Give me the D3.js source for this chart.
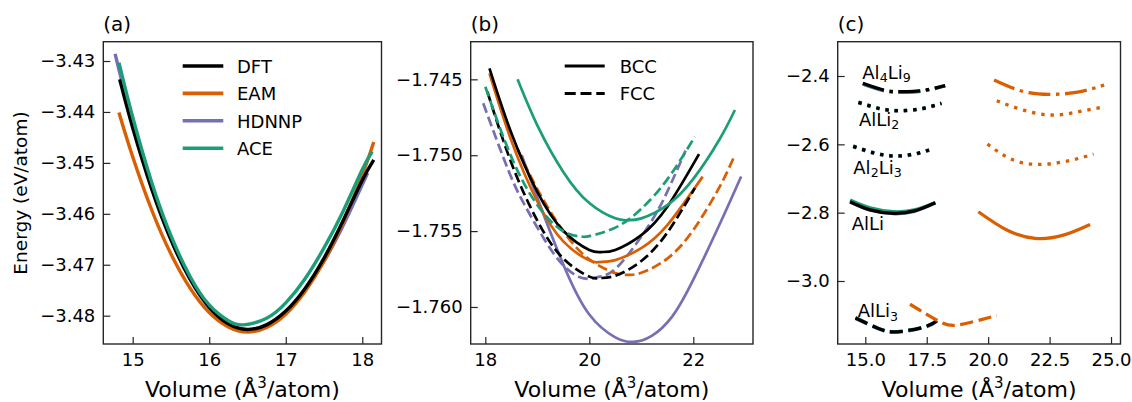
<!DOCTYPE html>
<html>
<head>
<meta charset="utf-8">
<script src="https://cdn.jsdelivr.net/npm/d3@7"></script>
<style>
  body { margin: 0; background: #fff; }
  svg { display: block; font-family: "DejaVu Sans", sans-serif; }
</style>
</head>
<body>
<div id="chart"></div>
<script>
// ---------- panel (a): fcc Al, energy vs volume ----------
var dftA = [[14.83,-3.4336],[15.0,-3.4431],[15.25,-3.4552],[15.5,-3.4651],[15.75,-3.4728],[16.0,-3.4783],[16.25,-3.4816],[16.5,-3.4827],[16.75,-3.4818],[17.0,-3.4791],[17.25,-3.4747],[17.5,-3.4687],[17.75,-3.4613],[18.0,-3.4534],[18.15,-3.4494]];
var eamA = [[14.82,-3.4401],[15.0,-3.4488],[15.25,-3.4593],[15.5,-3.4679],[15.75,-3.4746],[16.0,-3.4794],[16.25,-3.4822],[16.5,-3.4832],[16.75,-3.4823],[17.0,-3.4797],[17.25,-3.4753],[17.5,-3.4693],[17.75,-3.4616],[18.0,-3.4524],[18.15,-3.4459]];
var hdnnpA = [[14.77,-3.4286],[15.0,-3.4423],[15.25,-3.4548],[15.5,-3.4650],[15.75,-3.4729],[16.0,-3.4785],[16.25,-3.4818],[16.48,-3.4828],[16.75,-3.4818],[17.0,-3.4792],[17.25,-3.4749],[17.5,-3.4693],[17.75,-3.4623],[18.07,-3.4520]];
var aceA = [[14.82,-3.4303],[15.0,-3.4410],[15.25,-3.4539],[15.5,-3.4643],[15.75,-3.4723],[16.0,-3.4779],[16.25,-3.4810],[16.45,-3.4818],[16.75,-3.4805],[17.0,-3.4775],[17.25,-3.4728],[17.5,-3.4667],[17.75,-3.4595],[18.0,-3.4513],[18.13,-3.4478]];

// ---------- panel (b): bcc / fcc Li ----------
var dftBcc = [[18.08,-1.74428],[18.5,-1.74854],[19.0,-1.75242],[19.5,-1.75498],[20.0,-1.75624],[20.23,-1.75638],[20.5,-1.75624],[21.0,-1.75527],[21.5,-1.75340],[22.11,-1.74993]];
var dftFcc = [[18.04,-1.74582],[18.5,-1.75050],[19.0,-1.75431],[19.5,-1.75681],[20.0,-1.75800],[20.2,-1.75810],[20.5,-1.75794],[21.0,-1.75697],[21.5,-1.75510],[22.03,-1.75217]];
var eamBcc = [[18.08,-1.74461],[18.5,-1.74904],[19.0,-1.75305],[19.5,-1.75568],[20.0,-1.75693],[20.2,-1.75704],[20.5,-1.75691],[21.0,-1.75612],[21.5,-1.75461],[22.18,-1.75141]];
var eamFcc = [[18.62,-1.74960],[19.0,-1.75223],[19.5,-1.75501],[20.0,-1.75686],[20.5,-1.75777],[20.74,-1.75788],[21.0,-1.75775],[21.5,-1.75681],[22.0,-1.75493],[22.5,-1.75212],[22.8,-1.74998]];
var hdnnpBcc = [[18.7,-1.75000],[19.0,-1.75280],[19.5,-1.75720],[20.0,-1.76050],[20.5,-1.76200],[20.84,-1.76230],[21.2,-1.76190],[21.6,-1.76060],[22.0,-1.75820],[22.5,-1.75460],[22.92,-1.75140]];
var hdnnpFcc = [[17.96,-1.74658],[18.44,-1.75097],[18.76,-1.75330],[19.14,-1.75557],[19.52,-1.75733],[19.9,-1.75812],[20.2,-1.75800],[20.55,-1.75733],[21.13,-1.75470],[21.5,-1.75240],[21.85,-1.74970]];
var aceBcc = [[18.62,-1.74500],[19.0,-1.74803],[19.5,-1.75110],[20.0,-1.75315],[20.5,-1.75416],[20.74,-1.75428],[21.0,-1.75416],[21.5,-1.75329],[22.0,-1.75156],[22.5,-1.74898],[22.8,-1.74702]];
var aceFcc = [[18.0,-1.74549],[18.5,-1.75011],[19.0,-1.75328],[19.5,-1.75501],[19.85,-1.75536],[20.0,-1.75533],[20.5,-1.75477],[21.0,-1.75353],[21.5,-1.75159],[22.03,-1.74878]];

// ---------- panel (c): Al-Li compounds ----------
var al4li9Dft   = [[14.9,-2.4214],[15.8,-2.4420],[16.5,-2.4460],[17.3,-2.4430],[18.25,-2.4280]];
var al4li9Ace   = [[14.9,-2.4225],[15.8,-2.4428],[16.5,-2.4466],[17.3,-2.4434],[18.25,-2.4285]];
var al4li9Hdnnp = [[14.9,-2.4240],[15.8,-2.4440],[16.5,-2.4478],[17.3,-2.4445],[18.25,-2.4292]];
var al4li9Eam   = [[20.24,-2.4117],[21.44,-2.4455],[22.59,-2.4537],[23.7,-2.4465],[24.72,-2.4264]];

var alli2Dft   = [[14.72,-2.4770],[15.6,-2.4955],[16.4,-2.5015],[17.3,-2.4955],[18.1,-2.4800]];
var alli2Ace   = [[14.72,-2.4760],[15.6,-2.4950],[16.4,-2.5008],[17.3,-2.4950],[18.1,-2.4792]];
var alli2Hdnnp = [[14.72,-2.4785],[15.6,-2.4968],[16.4,-2.5028],[17.3,-2.4968],[18.1,-2.4810]];
var alli2Eam   = [[20.35,-2.4723],[21.44,-2.5000],[22.6,-2.5142],[23.7,-2.5045],[24.76,-2.4899]];

var al2li3Dft   = [[14.51,-2.6060],[15.4,-2.6260],[16.2,-2.6340],[17.0,-2.6285],[17.77,-2.6125]];
var al2li3Ace   = [[14.51,-2.6045],[15.4,-2.6250],[16.2,-2.6332],[17.0,-2.6278],[17.77,-2.6118]];
var al2li3Hdnnp = [[14.51,-2.6075],[15.4,-2.6272],[16.2,-2.6352],[17.0,-2.6296],[17.77,-2.6135]];
var al2li3Eam   = [[19.97,-2.5991],[21.03,-2.6460],[22.25,-2.6586],[23.47,-2.6450],[24.29,-2.6284]];

var alliDft   = [[14.38,-2.7680],[15.2,-2.7920],[16.14,-2.8020],[17.0,-2.7950],[17.85,-2.7710]];
var alliAce   = [[14.38,-2.7630],[15.2,-2.7860],[16.14,-2.7970],[17.0,-2.7920],[17.85,-2.7700]];
var alliHdnnp = [[14.38,-2.7690],[15.2,-2.7930],[16.14,-2.8030],[17.0,-2.7960],[17.85,-2.7720]];
var alliEam   = [[19.6,-2.7973],[20.76,-2.8510],[21.91,-2.8753],[23.06,-2.8656],[24.15,-2.8343]];

var alli3Dft   = [[14.6,-3.1080],[15.53,-3.1388],[16.3,-3.1487],[17.43,-3.1340],[17.91,-3.1165]];
var alli3Ace   = [[14.6,-3.1070],[15.53,-3.1380],[16.3,-3.1480],[17.43,-3.1332],[17.91,-3.1158]];
var alli3Hdnnp = [[14.6,-3.1095],[15.53,-3.1400],[16.3,-3.1498],[17.43,-3.1350],[17.91,-3.1175]];
var alli3Eam   = [[16.82,-3.0680],[18.04,-3.1194],[18.72,-3.1291],[19.54,-3.1165],[20.35,-3.1010]];

// tick values
var ticksAx = [15, 16, 17, 18];
var ticksAy = [-3.48, -3.47, -3.46, -3.45, -3.44, -3.43];
var ticksBx = [18, 20, 22];
var ticksBy = [-1.760, -1.755, -1.750, -1.745];
var ticksCx = [15.0, 17.5, 20.0, 22.5, 25.0];
var ticksCy = [-3.0, -2.8, -2.6, -2.4];

var methodNames = ["DFT", "EAM", "HDNNP", "ACE"];
var phaseNames = ["BCC", "FCC"];

/* ---------- SETUP ---------- */
var width = 1132, height = 402;
var svg = d3.select("#chart").append("svg")
    .attr("width", width)
    .attr("height", height);

var color = {dft: "#000000", eam: "#d95f02", hdnnp: "#7570b3", ace: "#1b9e77"};
var frameColor = "#262626";

function panel(o) {
    var x = d3.scaleLinear().domain(o.xDomain).range([o.left, o.right]);
    var y = d3.scaleLinear().domain(o.yDomain).range([o.bottom, o.top]);
    var g = svg.append("g");

    var xAxis = g.append("g")
        .attr("transform", "translate(0," + o.bottom + ")")
        .call(d3.axisBottom(x).tickValues(o.xTicks).tickFormat(d3.format(o.xFmt))
            .tickSizeInner(-7).tickSizeOuter(0).tickPadding(9));
    var yAxis = g.append("g")
        .attr("transform", "translate(" + o.left + ",0)")
        .call(d3.axisLeft(y).tickValues(o.yTicks).tickFormat(d3.format(o.yFmt))
            .tickSizeInner(-7).tickSizeOuter(0).tickPadding(8));
    [xAxis, yAxis].forEach(function(a) {
        a.attr("font-family", null).attr("font-size", null);
        a.select(".domain").remove();
        a.selectAll("line").attr("stroke", frameColor).attr("stroke-width", 1.2);
        a.selectAll("text").attr("fill", "#000").style("font-size", "18px");
    });

    g.append("rect")
        .attr("x", o.left).attr("y", o.top)
        .attr("width", o.right - o.left).attr("height", o.bottom - o.top)
        .attr("fill", "none").attr("stroke", frameColor).attr("stroke-width", 1.4);

    g.append("text")
        .attr("x", o.left).attr("y", 31)
        .style("font-size", "20px")
        .text(o.tag);

    var xl = g.append("text")
        .attr("x", (o.left + o.right) / 2).attr("y", 397)
        .attr("text-anchor", "middle")
        .style("font-size", "22px");
    xl.append("tspan").text("Volume (Å");
    xl.append("tspan").text("3").style("font-size", "15px").attr("dy", -9);
    xl.append("tspan").text("/atom)").attr("dy", 9);

    var line = d3.line()
        .x(function(d) { return x(d[0]); })
        .y(function(d) { return y(d[1]); })
        .curve(d3.curveNatural);

    var lines = g.append("g");
    o.series.forEach(function(s) {
        lines.append("path")
            .attr("d", line(s.data))
            .attr("fill", "none")
            .attr("stroke", s.color)
            .attr("stroke-width", s.width)
            .attr("stroke-dasharray", s.dash || null);
    });
    return {g: g, x: x, y: y};
}

/* ---------- PANEL (a) ---------- */
var pa = panel({
    tag: "(a)", left: 103.3, right: 381.5, top: 41.7, bottom: 344,
    xDomain: [14.616, 18.251], yDomain: [-3.48556, -3.42621],
    xTicks: ticksAx, yTicks: ticksAy, xFmt: "d", yFmt: ".2f",
    series: [
        {data: hdnnpA, color: color.hdnnp, width: 3.4},
        {data: eamA, color: color.eam, width: 3.4},
        {data: dftA, color: color.dft, width: 3.4},
        {data: aceA, color: color.ace, width: 3.4}
    ]
});

svg.append("text")
    .attr("transform", "translate(27,193) rotate(-90)")
    .attr("text-anchor", "middle")
    .style("font-size", "18.5px")
    .text("Energy (eV/atom)");

// legend (a)
var legA = pa.g.append("g");
[color.dft, color.eam, color.hdnnp, color.ace].forEach(function(c, i) {
    var ly = 66 + i * 27.4;
    legA.append("line").attr("x1", 182.7).attr("x2", 223.3).attr("y1", ly).attr("y2", ly)
        .attr("stroke", c).attr("stroke-width", 3.6);
    legA.append("text").attr("x", 237).attr("y", ly + 7).style("font-size", "18px").text(methodNames[i]);
});

/* ---------- PANEL (b) ---------- */
var dashB = "10,4.3";
var pb = panel({
    tag: "(b)", left: 470.7, right: 753, top: 41.7, bottom: 344,
    xDomain: [17.719, 23.148], yDomain: [-1.76244, -1.74252],
    xTicks: ticksBx, yTicks: ticksBy, xFmt: "d", yFmt: ".3f",
    series: [
        {data: hdnnpBcc, color: color.hdnnp, width: 2.7},
        {data: hdnnpFcc, color: color.hdnnp, width: 2.7, dash: dashB},
        {data: eamBcc, color: color.eam, width: 2.7},
        {data: eamFcc, color: color.eam, width: 2.7, dash: dashB},
        {data: dftBcc, color: color.dft, width: 2.7},
        {data: dftFcc, color: color.dft, width: 2.7, dash: dashB},
        {data: aceBcc, color: color.ace, width: 2.7},
        {data: aceFcc, color: color.ace, width: 2.7, dash: dashB}
    ]
});

var legB = pb.g.append("g");
phaseNames.forEach(function(n, i) {
    var ly = 66 + i * 27.4;
    legB.append("line").attr("x1", 564.7).attr("x2", 604.7).attr("y1", ly).attr("y2", ly)
        .attr("stroke", "#000").attr("stroke-width", 3)
        .attr("stroke-dasharray", i ? "11,4.8" : null);
    legB.append("text").attr("x", 619.7).attr("y", ly + 7).style("font-size", "18px").text(n);
});

/* ---------- PANEL (c) ---------- */
var lwC = 3.3;
var styleC = {
    dashdot: "22,5.6,3.5,5.6",
    dotted: "3.4,5.9",
    solid: null,
    dashed: "13,5.6"
};
var compounds = [
    {style: "dashdot", sets: [al4li9Hdnnp, al4li9Ace, al4li9Dft, al4li9Eam]},
    {style: "dotted",  sets: [alli2Hdnnp, alli2Ace, alli2Dft, alli2Eam]},
    {style: "dotted",  sets: [al2li3Hdnnp, al2li3Ace, al2li3Dft, al2li3Eam]},
    {style: "solid",   sets: [alliHdnnp, alliAce, alliDft, alliEam]},
    {style: "dashed",  sets: [alli3Hdnnp, alli3Ace, alli3Dft, alli3Eam]}
];
var seriesC = [];
compounds.forEach(function(cp) {
    var cols = [color.hdnnp, color.ace, color.dft, color.eam];
    cp.sets.forEach(function(s, i) {
        seriesC.push({data: s, color: cols[i], width: lwC, dash: styleC[cp.style]});
    });
});

var pc = panel({
    tag: "(c)", left: 837.7, right: 1120.5, top: 41.7, bottom: 344,
    xDomain: [13.877, 25.386], yDomain: [-3.1844, -2.2996],
    xTicks: ticksCx, yTicks: ticksCy, xFmt: ".1f", yFmt: ".1f",
    series: seriesC
});

// compound labels: [text, subscript] pieces and pixel anchor
var labelsC = [
    {parts: [["Al", 0], ["4", 1], ["Li", 0], ["9", 1]], x: 862.3, y: 78.5},
    {parts: [["AlLi", 0], ["2", 1]], x: 859, y: 125.5},
    {parts: [["Al", 0], ["2", 1], ["Li", 0], ["3", 1]], x: 853.3, y: 173.5},
    {parts: [["AlLi", 0]], x: 851.7, y: 230},
    {parts: [["AlLi", 0], ["3", 1]], x: 857.7, y: 317}
];
labelsC.forEach(function(l) {
    var t = pc.g.append("text").attr("x", l.x).attr("y", l.y).style("font-size", "18px");
    var low = false;
    l.parts.forEach(function(p) {
        var ts = t.append("tspan").text(p[0]);
        if (p[1] && !low) { ts.attr("dy", 3.5).style("font-size", "12.6px"); low = true; }
        else if (p[1]) { ts.style("font-size", "12.6px"); }
        else if (low) { ts.attr("dy", -3.5); low = false; }
    });
});
</script>
</body>
</html>
